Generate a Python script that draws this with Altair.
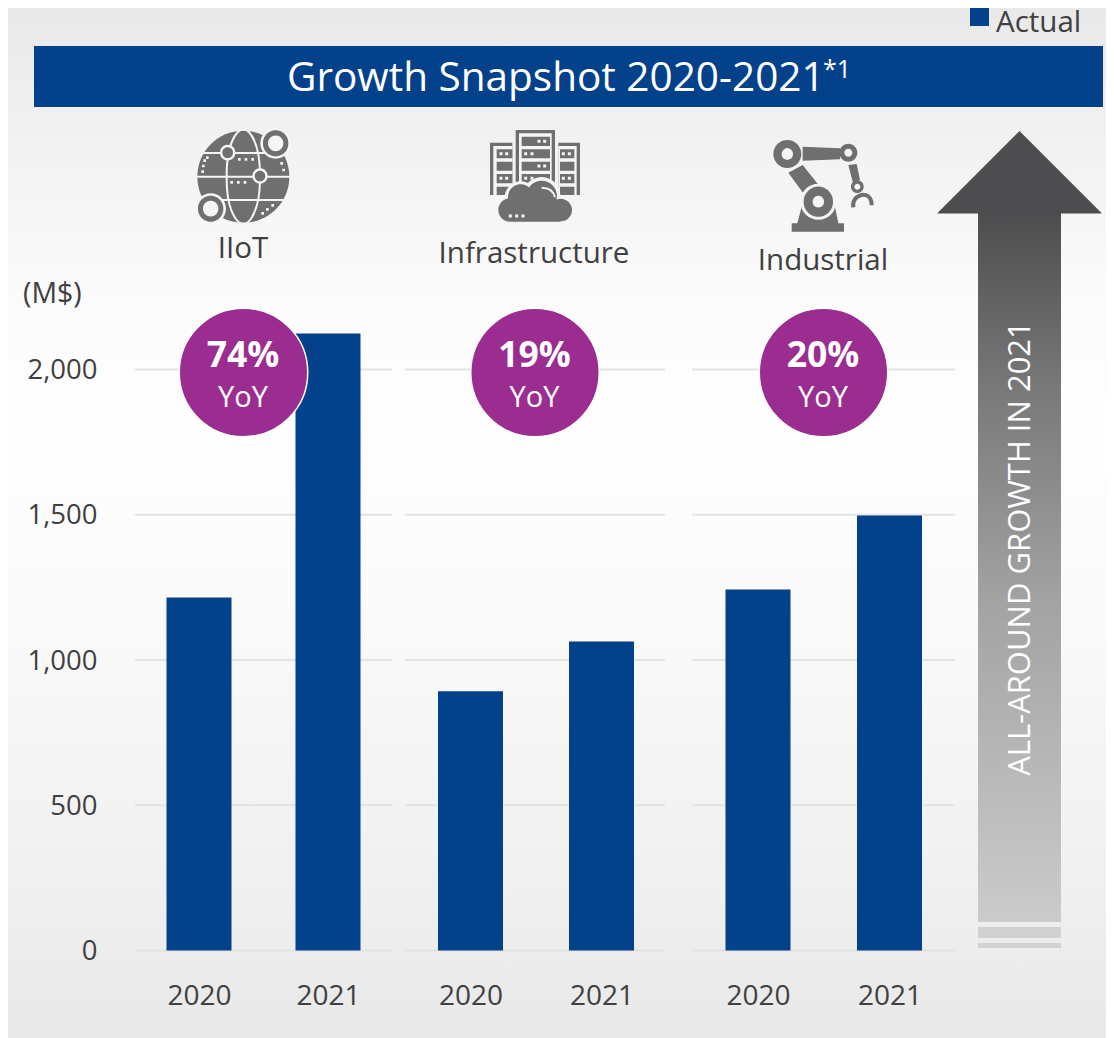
import json
import altair as alt
import pandas as pd

# ---- data
SEGMENTS = ["IIoT", "Infrastructure", "Industrial"]
YEARS = ["2020", "2021"]
VALUES_2020 = [1215, 892, 1243]
VALUES_2021 = [2124, 1064, 1497]
YOY = ["74%", "19%", "20%"]
Y_TICKS = [0, 500, 1000, 1500, 2000]

# ---- layout (page pixels)
OFF = 8
RIGHT = 1106
W, H = RIGHT - OFF, 1038 - OFF
ZERO_PX, PX_PER_UNIT = 950.5, 0.2905
BAR_CENTERS = [199, 328, 470.5, 601.5, 758, 889.5]
GRID_SPANS = [(135, 392), (405, 665), (692, 955)]
BADGE_X = [243.5, 535, 823.5]
BADGE_Y = 372.5
BADGE_VALUE_Y = 367
BADGE_YOY_Y = 407
FONT = "Open Sans"
TXT = "#404040"
BLUE = "#04418b"
PURPLE = "#9a2d8f"
ICON = "#6f6f6f"

xscale = alt.Scale(domain=[OFF, RIGHT], nice=False, zero=False, padding=0)
yscale = alt.Scale(domain=[(ZERO_PX - 1038) / PX_PER_UNIT, (ZERO_PX - OFF) / PX_PER_UNIT], nice=False, zero=False, padding=0)

yaxis = alt.Axis(values=Y_TICKS, format=",.0f", title=None, domain=False, ticks=False, grid=False,
                 labelFont=FONT, labelFontSize=27.5, labelColor=TXT, labelPadding=0,
                 labelOffset=1, labelFlush=False,
                 offset=-(97 - OFF), zindex=2)
xaxis = alt.Axis(values=BAR_CENTERS, title=None, domain=False, ticks=False, grid=False,
                 labelFont=FONT, labelFontSize=28, labelColor=TXT, labelPadding=0,
                 labelExpr="indexof(%s, datum.value) %% 2 == 0 ? '%s' : '%s'" % (json.dumps(BAR_CENTERS), YEARS[0], YEARS[1]),
                 offset=-(1038 - 982), zindex=2, labelOverlap=False, labelFlush=False)

one = pd.DataFrame({"a": [0]})


def gradient(stops):
    return alt.LinearGradient(gradient="linear", x1=0, y1=0, x2=0, y2=1,
                              stops=[alt.GradientStop(offset=o, color=c) for o, c in stops])


def rect_px(x0, y0, x1, y1, color):
    return alt.Chart(one).mark_rect(color=color).encode(
        x=alt.value(x0 - OFF), x2=alt.value(x1 - OFF), y=alt.value(y0 - OFF), y2=alt.value(y1 - OFF))


def text_px(s, x, y, size, color=TXT, align="center", weight="normal", angle=0):
    return alt.Chart(one).mark_text(text=s, font=FONT, fontSize=size, color=color, align=align,
                                    baseline="alphabetic", fontWeight=weight, angle=angle).encode(
        x=alt.value(x - OFF), y=alt.value(y - OFF))


def shape(d, color=None, stroke=None, sw=1):
    kw = dict(shape=d, size=4, opacity=1)
    if stroke:
        kw.update(filled=False, stroke=stroke, strokeWidth=sw)
    else:
        kw.update(filled=True, fill=color, strokeWidth=0)
    return alt.Chart(one).mark_point(**kw).encode(x=alt.value(-OFF), y=alt.value(-OFF))


class Z:
    """Path builder: coordinates measured in a 3x crop starting at ox, oy."""
    def __init__(self, ox, oy):
        self.ox, self.oy = ox, oy

    def p(self, x, y):
        return f"{self.ox + x / 3:.2f} {self.oy + y / 3:.2f}"

    def circle(self, cx, cy, r):
        r3 = r / 3
        return (f"M{self.p(cx - r, cy)}A{r3:.2f} {r3:.2f} 0 1 1 {self.p(cx + r, cy)}"
                f"A{r3:.2f} {r3:.2f} 0 1 1 {self.p(cx - r, cy)}Z")

    def ellipse(self, cx, cy, rx, ry):
        a, b = rx / 3, ry / 3
        return (f"M{self.p(cx - rx, cy)}A{a:.2f} {b:.2f} 0 1 1 {self.p(cx + rx, cy)}"
                f"A{a:.2f} {b:.2f} 0 1 1 {self.p(cx - rx, cy)}Z")

    def rect(self, x0, y0, x1, y1):
        return self.poly([(x0, y0), (x1, y0), (x1, y1), (x0, y1)])

    def poly(self, pts):
        return "M" + "L".join(self.p(*q) for q in pts) + "Z"

    def squares(self, pts, s=8):
        return "".join(self.rect(x - s / 2, y - s / 2, x + s / 2, y + s / 2) for x, y in pts)


layers = []

# background
layers.append(rect_px(OFF, OFF, RIGHT, 1038, gradient([
    (0, "#e9e9e9"), (0.12, "#f1f1f1"), (0.3, "#fcfcfc"), (0.42, "#fefefe"),
    (0.62, "#f9f9f9"), (0.85, "#f0f0f0"), (1, "#e8e8e8")])))

# grid lines per panel
grid = pd.DataFrame([{"x0": a, "x1": b, "v": t} for a, b in GRID_SPANS for t in Y_TICKS])
layers.append(alt.Chart(grid).mark_rule(color="#e3e3e3", strokeWidth=2).encode(
    x=alt.X("x0:Q", scale=xscale, axis=xaxis),
    x2="x1:Q",
    y=alt.Y("v:Q", scale=yscale, axis=yaxis)))

# bars
vals = [v for pair in zip(VALUES_2020, VALUES_2021) for v in pair]
bars = pd.DataFrame({"x": BAR_CENTERS, "v": vals})
layers.append(alt.Chart(bars).mark_bar(color=BLUE, size=65, orient="vertical").encode(
    x=alt.X("x:Q", scale=xscale, axis=xaxis),
    y=alt.Y("v:Q", scale=yscale, axis=yaxis, stack=None),
    y2=alt.datum(0)))

# header
layers.append(rect_px(34, 46, 1103, 107, BLUE))
layers.append(text_px("Growth Snapshot 2020-2021", 287, 91, 40.5, "#ffffff", "left"))
layers.append(text_px("*1", 823, 78, 25, "#ffffff", "left"))
layers.append(rect_px(970, 8, 989, 26, BLUE))
layers.append(text_px("Actual", 996, 32, 29.5, TXT, "left"))

# big arrow
layers.append(rect_px(978, 213, 1061, 922, gradient([
    (0, "#4d4d4f"), (0.25, "#79797a"), (0.55, "#a3a3a4"), (1, "#cbcbcb")])))
layers.append(rect_px(978, 927, 1061, 938, "#d0d0d0"))
layers.append(rect_px(978, 943, 1061, 948, "#d2d2d2"))
layers.append(shape("M1019.5 131L1102 213.5L937 213.5Z", "#4d4d4f"))
layers.append(text_px("ALL-AROUND GROWTH IN 2021", 1030, 548.5, 31, "#ffffff", "center", angle=270))

# ---- icons
L = "#f5f5f5"
g = Z(180, 120)
layers += [
    shape(g.circle(190, 170, 138), ICON),
    shape(g.ellipse(190, 170, 50, 138), stroke=L, sw=2),
    shape(g.rect(50, 96, 330, 102) + g.rect(50, 167, 330, 173) + g.rect(50, 237, 330, 243), L),
    shape(g.circle(143, 98, 23) + g.circle(240, 168, 23), L),
    shape(g.circle(143, 98, 16) + g.circle(240, 168, 16), ICON),
    shape(g.squares([(178, 118), (198, 118), (218, 118), (155, 187), (175, 187), (195, 187),
                     (68, 155), (70, 138), (74, 122), (82, 113), (305, 130), (311, 150),
                     (248, 280), (262, 268), (278, 256)], 8), L),
    shape(g.circle(287, 70, 46) + g.circle(92, 266, 46), L),
    shape(g.circle(287, 70, 38) + g.circle(92, 266, 38), ICON),
    shape(g.circle(287, 70, 23) + g.circle(92, 266, 23), L),
]

s = Z(470, 120)
rows = [(88, 115), (125, 152), (162, 190), (200, 225)]
layers += [
    shape(s.rect(60, 68, 127, 225) + s.rect(265, 68, 330, 225) + s.rect(137, 30, 255, 225), ICON),
    shape(s.rect(70, 78, 127, 225) + s.rect(265, 78, 320, 225) + s.rect(147, 40, 245, 225), L),
    shape("".join(s.rect(80, a, 127, b) + s.rect(270, a, 313, b) for a, b in rows)
          + s.rect(155, 50, 240, 78) + "".join(s.rect(155, a, 240, b) for a, b in rows), ICON),
    shape(s.squares([(207, 64), (224, 64), (167, 101), (186, 101), (207, 138), (224, 138),
                     (167, 175), (186, 175), (93, 101), (110, 101), (93, 175), (110, 175),
                     (280, 101), (298, 101), (280, 175), (298, 175)], 9), L),
    shape(s.circle(120, 270, 46) + s.circle(152, 232, 48) + s.circle(215, 228, 56)
          + s.circle(272, 270, 44), L),
    shape(s.circle(120, 270, 35) + s.circle(152, 232, 38) + s.circle(215, 228, 46)
          + s.circle(272, 270, 34) + s.rect(120, 250, 272, 305), ICON),
    shape(f"M{s.p(215, 203)}Q{s.p(248, 203)} {s.p(255, 232)}", stroke=L, sw=2),
    shape(s.squares([(121, 288), (140, 288), (159, 288)], 9), L),
]

r = Z(760, 130)
layers += [
    shape(r.poly([(128, 50), (240, 55), (240, 88), (128, 92)])
          + r.poly([(85, 128), (128, 105), (180, 170), (130, 190)])
          + r.poly([(265, 105), (290, 102), (300, 150), (278, 155)])
          + r.poly([(125, 230), (225, 230), (235, 280), (252, 280), (252, 305), (95, 305), (95, 280), (112, 280)])
          + r.circle(82, 72, 42) + r.circle(265, 68, 27) + r.circle(292, 170, 19), ICON),
    shape(r.circle(175, 215, 54), L),
    shape(r.circle(175, 215, 44), ICON),
    shape(r.circle(82, 72, 17) + r.circle(265, 68, 12) + r.circle(292, 170, 9) + r.circle(175, 215, 17), L),
    shape(f"M{r.p(280, 232)}C{r.p(272, 192)} {r.p(335, 175)} {r.p(335, 226)}", stroke=ICON, sw=4),
]

# badges
badges = pd.DataFrame({"x": BADGE_X, "y": [BADGE_Y] * 3, "t": YOY})
layers.append(alt.Chart(badges).mark_point(shape="circle", filled=True, size=128.5 ** 2, fill=PURPLE,
                                           stroke="#ffffff", strokeWidth=1.5, opacity=1).encode(
    x=alt.X("x:Q", scale=xscale, axis=xaxis),
    y=alt.value(BADGE_Y - OFF)))
for bx, t in zip(BADGE_X, YOY):
    layers.append(text_px(t, bx - 0.5, BADGE_VALUE_Y, 35.5, "#ffffff", "center", "bold"))
    layers.append(text_px("YoY", bx - 0.5, BADGE_YOY_Y, 29, "#ffffff"))

# labels
for name, lx, ly in zip(SEGMENTS, [243, 534, 823], [258, 263, 270]):
    layers.append(text_px(name, lx, ly, 29.5))
layers.append(text_px("(M$)", 23, 303, 28.5, TXT, "left"))

chart = alt.layer(*layers).properties(
    width=W, height=H, padding=0, autosize=alt.AutoSizeParams(type="none")
).configure_view(strokeWidth=0)

chart.save("out.html", embed_options={"renderer": "svg", "actions": False})
